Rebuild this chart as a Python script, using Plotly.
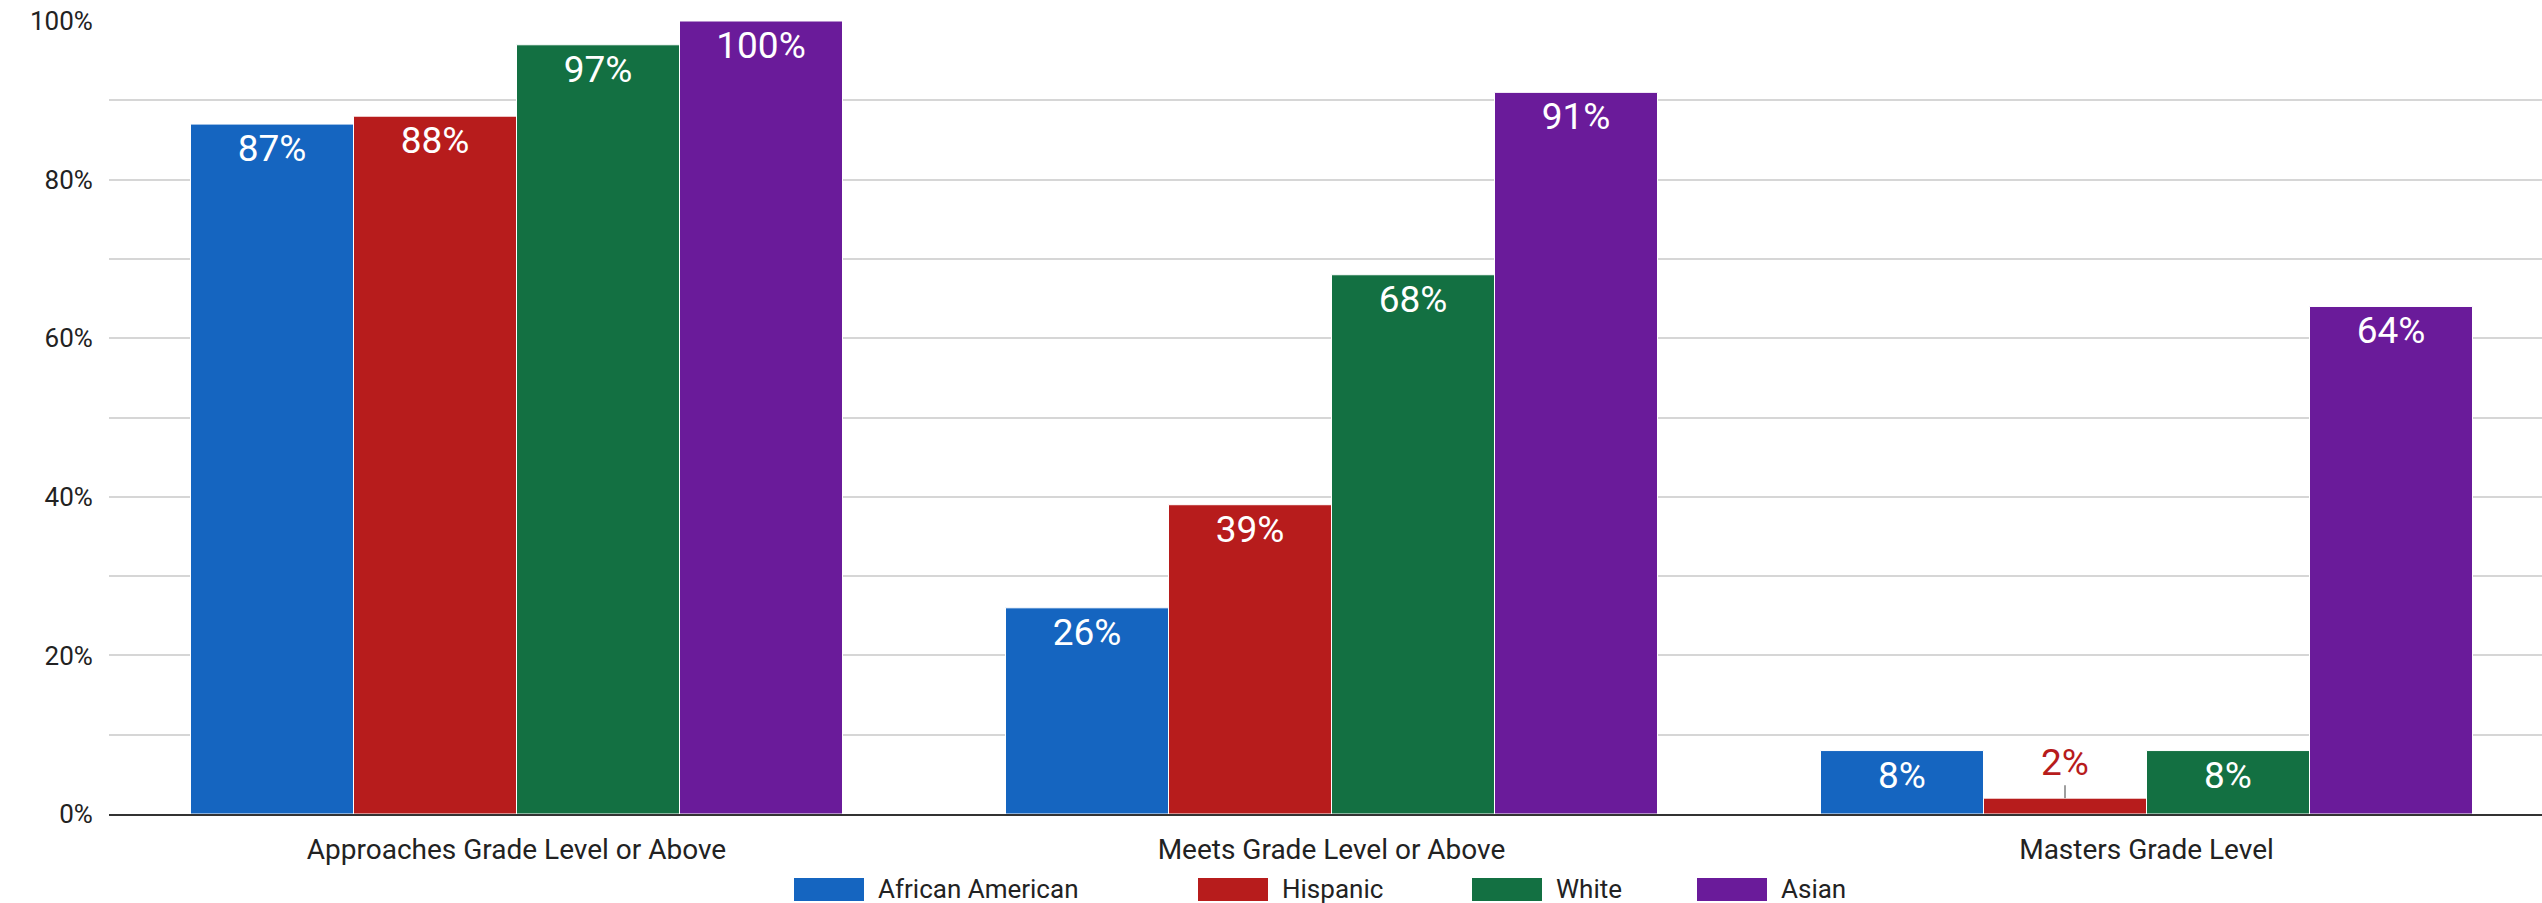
import plotly.graph_objects as go

# Performance levels (x categories) and the share of students per group
categories = ["Approaches Grade Level or Above", "Meets Grade Level or Above", "Masters Grade Level"]
groups = ["African American", "Hispanic", "White", "Asian"]
african_american = [87, 26, 8]
hispanic = [88, 39, 2]
white = [97, 68, 8]
asian = [100, 91, 64]
y_ticks = [0, 20, 40, 60, 80, 100]
y_tick_labels = ["0%", "20%", "40%", "60%", "80%", "100%"]

series = [african_american, hispanic, white, asian]
colors = ["#1565C0", "#B71C1C", "#137042", "#6A1B9A"]

FONT = "Roboto"
W, H = 2542, 903
M_L, M_R, M_T, M_B = 109, 0, 21, 89
BARGAP = 0.2
SMALL = 5  # bars shorter than this get their label above the bar

plot_w = W - M_L - M_R
plot_h = H - M_T - M_B


def paper_x(px):
    return (px - M_L) / plot_w


def paper_y(py):
    return (H - M_B - py) / plot_h


fig = go.Figure()
annotations = []
n = len(series)
bar_w = (1 - BARGAP) / n
for i, (name, vals, col) in enumerate(zip(groups, series, colors)):
    labels = [f"{v}%" for v in vals]
    positions = ["inside" if v >= SMALL else "none" for v in vals]
    fig.add_trace(go.Bar(
        name=name,
        x=categories,
        y=vals,
        text=labels,
        texttemplate="%{text}",
        marker=dict(color=col, line=dict(color="white", width=1)),
        textposition=positions,
        insidetextanchor="end",
        textangle=0,
        constraintext="none",
        insidetextfont=dict(family=FONT, size=37, color="white"),
        cliponaxis=False,
        showlegend=False,
    ))
    # labels for short bars sit above the bar with a small leader line
    offset = (i - (n - 1) / 2) * bar_w
    for j, (v, lab) in enumerate(zip(vals, labels)):
        if v < SMALL:
            annotations.append(dict(
                x=j + offset, y=v, xref="x", yref="y",
                text=lab, showarrow=True, arrowhead=0,
                arrowcolor="#9e9e9e", arrowwidth=2,
                ax=0, ay=-36,
                font=dict(family=FONT, size=37, color=col),
            ))

# legend drawn as wide swatches with labels underneath the axis
legend_left = [794, 1198, 1472, 1697]
sw_w, sw_h, sw_top = 70, 23, 878
shapes = []
for name, col, left in zip(groups, colors, legend_left):
    shapes.append(dict(
        type="rect", xref="paper", yref="paper",
        x0=paper_x(left), x1=paper_x(left + sw_w),
        y0=paper_y(sw_top + sw_h), y1=paper_y(sw_top),
        fillcolor=col, line=dict(width=0),
    ))
    annotations.append(dict(
        x=paper_x(left + sw_w + 12), y=paper_y(sw_top + sw_h / 2),
        xref="paper", yref="paper", xanchor="left", yanchor="middle",
        text=name, showarrow=False,
        font=dict(family=FONT, size=26, color="#222222"),
    ))

fig.update_layout(
    width=W, height=H, autosize=False,
    margin=dict(l=M_L, r=M_R, t=M_T, b=M_B, pad=0),
    barmode="group", bargap=BARGAP, bargroupgap=0,
    plot_bgcolor="white", paper_bgcolor="white",
    font=dict(family=FONT, color="#222222"),
    shapes=shapes, annotations=annotations,
    showlegend=False,
)
fig.update_xaxes(
    type="category",
    range=[-0.5, -0.5 + plot_w / 815],
    showgrid=False, showline=True, linecolor="#333333", linewidth=2,
    ticks="outside", ticklen=9, tickcolor="rgba(0,0,0,0)",
    tickfont=dict(family=FONT, size=28, color="#222222"),
)
fig.update_yaxes(
    range=[0, 100],
    tickvals=y_ticks, ticktext=y_tick_labels,
    showgrid=True, gridcolor="#d6d6d6", gridwidth=2,
    minor=dict(dtick=10, showgrid=True, gridcolor="#d6d6d6", gridwidth=2),
    zeroline=False, showline=False,
    ticks="outside", ticklen=10, tickcolor="rgba(0,0,0,0)",
    tickfont=dict(family=FONT, size=26, color="#222222"),
)

fig.write_html("out.html")
